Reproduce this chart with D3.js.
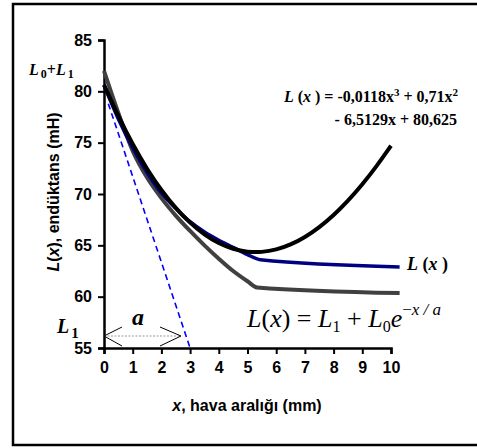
<!DOCTYPE html>
<html>
<head>
<meta charset="utf-8">
<script src="https://cdn.jsdelivr.net/npm/d3@7"></script>
<style>
  body { margin: 0; background: #fff; }
  svg { display: block; }
</style>
</head>
<body>
<svg id="chart" width="477" height="448"></svg>
<script>
// data
const xTicks = [0, 1, 2, 3, 4, 5, 6, 7, 8, 9, 10];
const yTicks = [55, 60, 65, 70, 75, 80, 85];

// polynomial fit curve (black)
const fitX = [0, 0.5, 1, 1.5, 2, 2.5, 3, 3.5, 4, 4.5, 5, 5.5, 6, 6.5, 7, 7.5, 8, 8.5, 9, 9.5, 10];
const fitY = [80.63, 77.54, 74.81, 72.41, 70.34, 68.60, 67.16, 66.02, 65.18, 64.62, 64.34, 64.32,
  64.56, 65.05, 65.78, 66.74, 67.92, 69.32, 70.92, 72.71, 74.7];

// measured L(x) (blue)
const measX = [0, 0.5, 1, 1.5, 2, 2.5, 3, 3.5, 4, 4.5, 5, 5.45, 10.3];
const measY = [80.6, 77.3, 74.5, 72.1, 70.1, 68.6, 67.3, 66.3, 65.5, 64.8, 64.1, 63.6, 62.9];

// exponential model (grey)
const expX = [0, 0.5, 1, 1.5, 2, 2.5, 3, 3.5, 4, 4.5, 5, 5.33, 10.3];
const expY = [82.0, 77.9, 74.2, 71.6, 69.6, 67.9, 66.4, 65.0, 63.7, 62.5, 61.5, 60.9, 60.35];

// tangent at x = 0 (dashed)
const tanX = [0.15, 3.0];
const tanY = [78.8, 55];

const svg = d3.select("#chart");

const x = d3.scaleLinear().domain([0, 10]).range([104, 391]);
const y = d3.scaleLinear().domain([55, 85]).range([348, 40]);

const sans = "'Liberation Sans', Arial, sans-serif";
const serif = "'Liberation Serif', 'Times New Roman', serif";

// outer frame
svg.append("rect")
  .attr("x", 13).attr("y", 4)
  .attr("width", 470).attr("height", 441)
  .attr("fill", "none").attr("stroke", "#000").attr("stroke-width", 2.5);

// axes
const xAxis = svg.append("g")
  .attr("transform", `translate(0,${y(55)})`)
  .call(d3.axisBottom(x).tickValues(xTicks).tickSize(6).tickPadding(8).tickFormat(d3.format("d")));
const yAxis = svg.append("g")
  .attr("transform", `translate(${x(0)},0)`)
  .call(d3.axisLeft(y).tickValues(yTicks).tickSize(6).tickPadding(6).tickFormat(d3.format("d")));

[xAxis, yAxis].forEach((a) => {
  a.select(".domain").attr("stroke", "#000").attr("stroke-width", 2.5);
  a.selectAll(".tick line").attr("stroke", "#000").attr("stroke-width", 2);
  a.selectAll(".tick text")
    .attr("fill", "#000")
    .style("font-family", sans)
    .style("font-weight", "bold")
    .style("font-size", "16px");
});

const zip = (xs, ys) => xs.map((v, i) => [v, ys[i]]);
const mkLine = (curve) => d3.line().x((d) => x(d[0])).y((d) => y(d[1])).curve(curve);

// tangent dashed
svg.append("path")
  .datum(zip(tanX, tanY))
  .attr("d", mkLine(d3.curveLinear))
  .attr("fill", "none")
  .attr("stroke", "#0000ff")
  .attr("stroke-width", 1.6)
  .attr("stroke-dasharray", "6,4");

// grey model
svg.append("path")
  .datum(zip(expX, expY))
  .attr("d", mkLine(d3.curveMonotoneX))
  .attr("fill", "none")
  .attr("stroke", "#404040")
  .attr("stroke-width", 4);

// blue measured
svg.append("path")
  .datum(zip(measX, measY))
  .attr("d", mkLine(d3.curveMonotoneX))
  .attr("fill", "none")
  .attr("stroke", "#000080")
  .attr("stroke-width", 3.5);

// black fit
svg.append("path")
  .datum(zip(fitX, fitY))
  .attr("d", mkLine(d3.curveBasis))
  .attr("fill", "none")
  .attr("stroke", "#000")
  .attr("stroke-width", 4);

// "a" double arrow
const ay = 336;
svg.append("line")
  .attr("x1", x(0)).attr("x2", 181).attr("y1", ay).attr("y2", ay)
  .attr("stroke", "#999").attr("stroke-width", 1.2).attr("stroke-dasharray", "2,1.5");
svg.append("path")
  .attr("d", `M122,${ay - 9}L${x(0)},${ay}L122,${ay + 10}M160,${ay - 9}L181,${ay}L160,${ay + 10}`)
  .attr("fill", "none").attr("stroke", "#000").attr("stroke-width", 1);

svg.append("text")
  .attr("x", 138).attr("y", 325)
  .attr("text-anchor", "middle")
  .style("font-family", serif).style("font-weight", "bold").style("font-style", "italic")
  .style("font-size", "24px")
  .text("a");

// L1 label
const l1 = svg.append("text").attr("x", 57).attr("y", 333)
  .style("font-family", serif).style("font-weight", "bold").style("font-style", "italic")
  .style("font-size", "20px");
l1.append("tspan").text("L");
l1.append("tspan").attr("dy", 5).attr("dx", 2).style("font-style", "normal").style("font-size", "15px").text("1");

// L0+L1 label
const l01 = svg.append("text").attr("x", 29).attr("y", 75)
  .style("font-family", serif).style("font-weight", "bold").style("font-style", "italic")
  .style("font-size", "16px");
l01.append("tspan").text("L");
l01.append("tspan").attr("dy", 3).attr("dx", 2).style("font-style", "normal").style("font-size", "12px").text("0");
l01.append("tspan").attr("dy", -3).style("font-style", "normal").text("+");
l01.append("tspan").text("L");
l01.append("tspan").attr("dy", 3).attr("dx", 2).style("font-style", "normal").style("font-size", "12px").text("1");

// fit equation
const eq = svg.append("g")
  .style("font-family", serif).style("font-weight", "bold").style("font-size", "16px");
const e1 = eq.append("text").attr("x", 458).attr("y", 102).attr("text-anchor", "end");
e1.append("tspan").style("font-style", "italic").text("L");
e1.append("tspan").text(" (");
e1.append("tspan").style("font-style", "italic").text("x");
e1.append("tspan").text(" ) = -0,0118x");
e1.append("tspan").attr("dy", -6).style("font-size", "11px").text("3");
e1.append("tspan").attr("dy", 6).text(" + 0,71x");
e1.append("tspan").attr("dy", -6).style("font-size", "11px").text("2");
eq.append("text").attr("x", 457).attr("y", 125).attr("text-anchor", "end")
  .text("- 6,5129x + 80,625");

// L(x) series label
const lx = svg.append("text").attr("x", 407).attr("y", 270)
  .style("font-family", serif).style("font-weight", "bold").style("font-size", "18px");
lx.append("tspan").style("font-style", "italic").text("L");
lx.append("tspan").text(" (");
lx.append("tspan").style("font-style", "italic").text("x");
lx.append("tspan").text(" )");

// model formula
const mf = svg.append("text").attr("x", 247).attr("y", 327)
  .style("font-family", serif).style("font-size", "26px");
mf.append("tspan").style("font-style", "italic").text("L");
mf.append("tspan").text("(");
mf.append("tspan").style("font-style", "italic").text("x");
mf.append("tspan").text(") = ");
mf.append("tspan").style("font-style", "italic").text("L");
mf.append("tspan").attr("dy", 5).style("font-size", "16px").text("1");
mf.append("tspan").attr("dy", -5).text(" + ");
mf.append("tspan").style("font-style", "italic").text("L");
mf.append("tspan").attr("dy", 5).style("font-size", "16px").text("0");
mf.append("tspan").attr("dy", -5).style("font-style", "italic").text("e");
mf.append("tspan").attr("dy", -12).style("font-size", "17px").text("\u2212");
mf.append("tspan").style("font-size", "17px").style("font-style", "italic").text("x / a");

// axis titles
const xt = svg.append("text").attr("x", 247).attr("y", 411).attr("text-anchor", "middle")
  .style("font-family", sans).style("font-weight", "bold").style("font-size", "16px");
xt.append("tspan").style("font-style", "italic").text("x");
xt.append("tspan").text(", hava aralığı (mm)");

const yt = svg.append("text")
  .attr("transform", "translate(59,192) rotate(-90)")
  .attr("text-anchor", "middle")
  .style("font-family", sans).style("font-weight", "bold").style("font-size", "16px");
yt.append("tspan").style("font-style", "italic").text("L");
yt.append("tspan").text("(");
yt.append("tspan").style("font-style", "italic").text("x");
yt.append("tspan").text("), endüktans (mH)");
</script>
</body>
</html>
